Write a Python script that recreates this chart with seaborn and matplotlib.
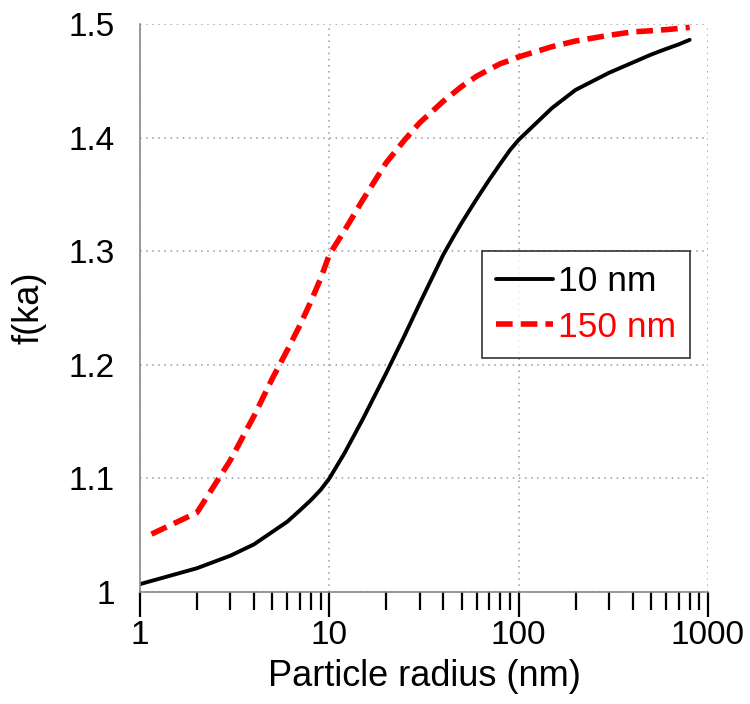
import numpy as np
import pandas as pd
import matplotlib
matplotlib.use("Agg")
import matplotlib.pyplot as plt
import seaborn as sns
from matplotlib.ticker import FormatStrFormatter, LogLocator, NullFormatter

# series
radius_10 = [1, 2, 3, 4, 5, 6, 7, 8, 9, 10, 12, 15, 20, 25, 30, 35, 40, 45, 50,
             60, 70, 80, 90, 100, 150, 200, 300, 400, 500, 600, 700, 800]
f_10 = [1.007, 1.021, 1.032, 1.042, 1.053, 1.062, 1.072, 1.081, 1.090, 1.100,
        1.122, 1.152, 1.193, 1.226, 1.254, 1.277, 1.297, 1.312, 1.325,
        1.346, 1.363, 1.377, 1.389, 1.398, 1.426, 1.442, 1.457, 1.466,
        1.473, 1.478, 1.482, 1.486]

radius_150 = [1.15, 2, 3, 4, 5, 6, 7, 8, 9, 10, 12, 15, 20, 25, 30, 40, 50,
              60, 70, 80, 90, 100, 150, 200, 300, 400, 500, 600, 700, 800]
f_150 = [1.051, 1.070, 1.116, 1.155, 1.188, 1.213, 1.235, 1.256, 1.276, 1.297,
         1.318, 1.345, 1.378, 1.398, 1.413, 1.432, 1.445,
         1.454, 1.460, 1.465, 1.468, 1.471, 1.480, 1.485, 1.490, 1.493,
         1.494, 1.495, 1.496, 1.497]

x_ticks = [1, 10, 100, 1000]
y_ticks = [1, 1.1, 1.2, 1.3, 1.4, 1.5]

df10 = pd.DataFrame({'radius': radius_10, 'f': f_10})
df150 = pd.DataFrame({'radius': radius_150, 'f': f_150})

sns.set_style('white')
plt.rcParams['font.family'] = ['Liberation Sans', 'DejaVu Sans']
plt.rcParams['text.color'] = 'black'
plt.rcParams['axes.labelcolor'] = 'black'
plt.rcParams['xtick.color'] = 'black'
plt.rcParams['ytick.color'] = 'black'

fig = plt.figure(figsize=(7.5, 7.04), dpi=100)
ax = fig.add_axes([0.1867, 0.159, 0.7573, 0.807])

sns.lineplot(data=df10, x='radius', y='f', color='black', linewidth=2.8,
             label='10 nm', ax=ax, estimator=None, sort=False)
sns.lineplot(data=df150, x='radius', y='f', color='#ff0000', linewidth=4.0,
             label='150 nm', ax=ax, estimator=None, sort=False,
             dashes=False)
ax.lines[1].set_dashes([3.0, 1.45])

ax.set_xscale('log')
ax.set_xlim(1, 1000)
ax.set_ylim(1, 1.5)
ax.set_xticks(x_ticks)
ax.xaxis.set_major_formatter(FormatStrFormatter('%g'))
ax.xaxis.set_minor_locator(LogLocator(base=10, subs=np.arange(2, 10)))
ax.xaxis.set_minor_formatter(NullFormatter())
ax.set_yticks(y_ticks)
ax.yaxis.set_major_formatter(FormatStrFormatter('%g'))

ax.grid(True, which='major', color='#999999', linestyle=(0, (1, 3)), linewidth=1.1)

for side in ['top', 'right']:
    ax.spines[side].set_visible(False)
for side in ['left', 'bottom']:
    ax.spines[side].set_color('#888888')
    ax.spines[side].set_linewidth(1.2)

ax.tick_params(axis='x', which='major', direction='out', length=18, width=1.6,
               color='black', labelsize=24, pad=2, bottom=True)
ax.tick_params(axis='x', which='minor', direction='out', length=13, width=1.6,
               color='black', bottom=True)
ax.tick_params(axis='y', length=0, labelsize=24, pad=18)

ax.set_xlabel('Particle radius (nm)', fontsize=26, labelpad=6)
ax.set_ylabel('f(ka)', fontsize=26, labelpad=16)

leg = ax.legend(loc='upper left', bbox_to_anchor=(0.602, 0.600), fontsize=25.5,
                frameon=True, fancybox=False, handlelength=1.6,
                handletextpad=0.15, borderpad=0.4, labelspacing=0.35,
                borderaxespad=0)
leg.get_frame().set_edgecolor('black')
leg.get_frame().set_linewidth(1.2)
for txt, col in zip(leg.get_texts(), ['black', '#ff0000']):
    txt.set_color(col)

fig.savefig('out.png', dpi=100)
